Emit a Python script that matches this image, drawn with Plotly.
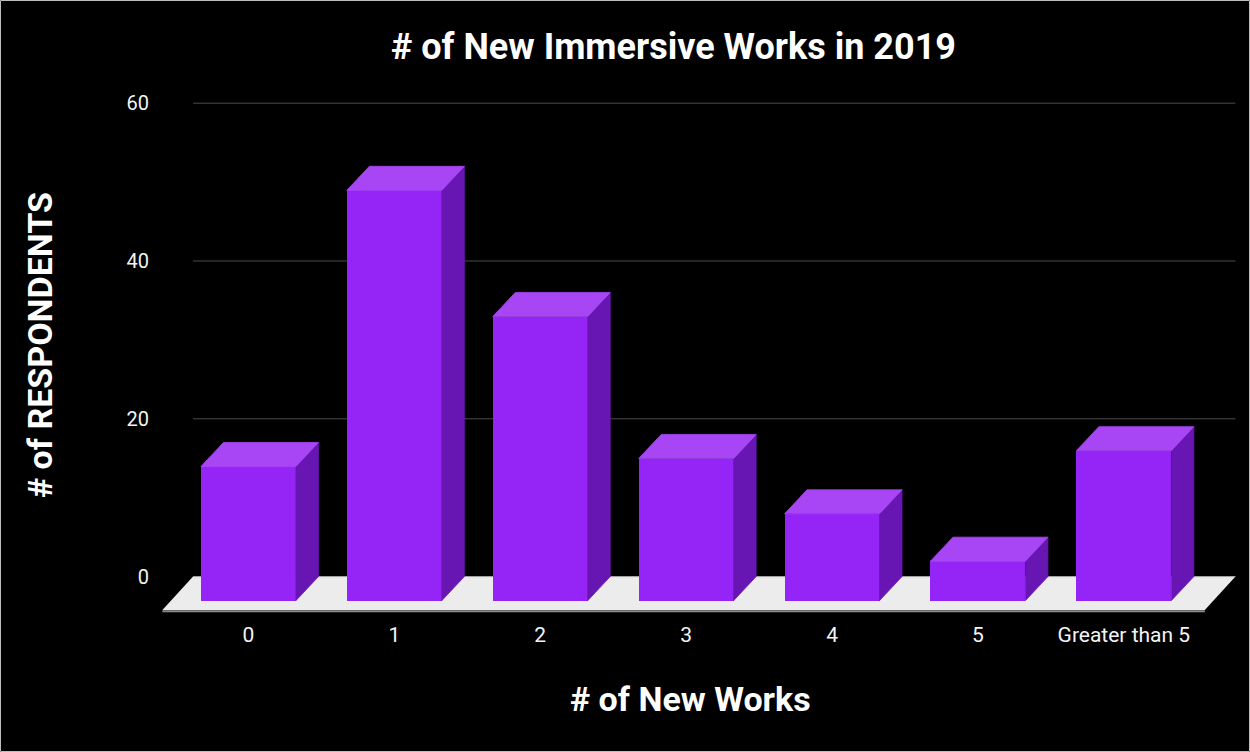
import plotly.graph_objects as go

# Survey results: number of new immersive works produced in 2019
categories = ["0", "1", "2", "3", "4", "5", "Greater than 5"]
respondents = [17, 52, 36, 18, 11, 5, 19]
y_ticks = [0, 20, 40, 60]

TITLE = "# of New Immersive Works in 2019"
X_TITLE = "# of New Works"
Y_TITLE = "# of RESPONDENTS"

# Canvas and plot-area geometry (pixels)
W, H = 1250, 752
L, R, T, B = 150, 1240, 90, 620

# Axis ranges (category index units / value units)
X_RANGE = [-0.675, 6.796]
Y_RANGE = [-5.50, 61.67]

# Pseudo-3D extrusion parameters
BAR_W = 0.651    # front face width
DX = 0.154       # depth offset in x
DY = 3.04        # depth offset in y
FLOOR_BACK = (-0.38, 6.765)
FLOOR_DX = 0.21
FLOOR_DY = 4.23

FRONT = "#9524f7"
TOP = "#a846f6"
SIDE = "#6816b3"
FLOOR = "#ececec"
GRID = "#4a4a4a"
FONT = "Roboto"


def px_to_paper_x(px):
    return (px - L) / (R - L)


def px_to_paper_y(py):
    return 1 - (py - T) / (B - T)


xs = list(range(len(categories)))

fig = go.Figure()

# Front faces of the bars
fig.add_trace(go.Bar(
    x=xs, y=respondents, base=[-DY] * len(xs), width=BAR_W,
    marker=dict(color=FRONT, line=dict(width=0)),
    hoverinfo="skip", showlegend=False,
))

# Side and top faces
for x, v in zip(xs, respondents):
    left, right = x - BAR_W / 2, x + BAR_W / 2
    fig.add_trace(go.Scatter(
        x=[right, right + DX, right + DX, right, right],
        y=[-DY, 0, v, v - DY, -DY],
        mode="lines", fill="toself", fillcolor=SIDE,
        line=dict(width=0.8, color=SIDE), hoverinfo="skip", showlegend=False,
    ))
    fig.add_trace(go.Scatter(
        x=[left, right, right + DX, left + DX, left],
        y=[v - DY, v - DY, v, v, v - DY],
        mode="lines", fill="toself", fillcolor=TOP,
        line=dict(width=0.8, color=TOP), hoverinfo="skip", showlegend=False,
    ))

shapes = []

# Floor
bl, br = FLOOR_BACK
fl, fr = bl - FLOOR_DX, br - FLOOR_DX
shapes.append(dict(
    type="path", xref="x", yref="y", layer="below",
    path=f"M {fl},{-FLOOR_DY} L {fr},{-FLOOR_DY} L {br},0 L {bl},0 Z",
    fillcolor=FLOOR, line=dict(width=0),
))
shapes.append(dict(
    type="line", xref="x", yref="y", layer="below",
    x0=fl, x1=fr, y0=-FLOOR_DY - 0.15, y1=-FLOOR_DY - 0.15,
    line=dict(color="#8c8c8c", width=2),
))
shapes.append(dict(
    type="line", xref="x", yref="y", layer="below",
    x0=bl, x1=br, y0=0, y1=0,
    line=dict(color="#a8a8a8", width=1),
))

# Back-wall gridlines
for t in y_ticks[1:]:
    shapes.append(dict(
        type="line", xref="x", yref="y", layer="below",
        x0=bl, x1=br, y0=t, y1=t,
        line=dict(color=GRID, width=1),
    ))

# Thin frame around the canvas
shapes.append(dict(
    type="rect", xref="paper", yref="paper", layer="above",
    x0=px_to_paper_x(0.5), x1=px_to_paper_x(W - 0.5),
    y0=px_to_paper_y(H - 0.5), y1=px_to_paper_y(0.5),
    line=dict(color="#bdbdbd", width=1), fillcolor="rgba(0,0,0,0)",
))

annotations = [
    dict(text=TITLE, xref="paper", yref="paper",
         x=px_to_paper_x(673), y=px_to_paper_y(47),
         xanchor="center", yanchor="middle", showarrow=False,
         font=dict(family=FONT, size=36, color="white", weight="bold")),
    dict(text=X_TITLE, xref="paper", yref="paper",
         x=px_to_paper_x(690), y=px_to_paper_y(699),
         xanchor="center", yanchor="middle", showarrow=False,
         font=dict(family=FONT, size=34, color="white", weight="bold")),
    dict(text=Y_TITLE, xref="paper", yref="paper",
         x=px_to_paper_x(40), y=px_to_paper_y(345),
         xanchor="center", yanchor="middle", showarrow=False, textangle=-90,
         font=dict(family=FONT, size=34, color="white", weight="bold")),
]

fig.update_layout(
    width=W, height=H,
    margin=dict(l=L, r=W - R, t=T, b=H - B),
    paper_bgcolor="black", plot_bgcolor="black",
    shapes=shapes, annotations=annotations,
    bargap=0, showlegend=False,
    xaxis=dict(
        range=X_RANGE, tickmode="array", tickvals=xs, ticktext=categories,
        showgrid=False, zeroline=False, showline=False, ticks="",
        tickfont=dict(family=FONT, size=21, color="#f4f4f4"),
        fixedrange=True,
    ),
    yaxis=dict(
        range=Y_RANGE, tickmode="array", tickvals=y_ticks,
        ticktext=[str(t) for t in y_ticks],
        showgrid=False, zeroline=False, showline=False, ticks="",
        tickfont=dict(family=FONT, size=20, color="#f4f4f4"),
        fixedrange=True,
    ),
)

fig.write_html("out.html")
